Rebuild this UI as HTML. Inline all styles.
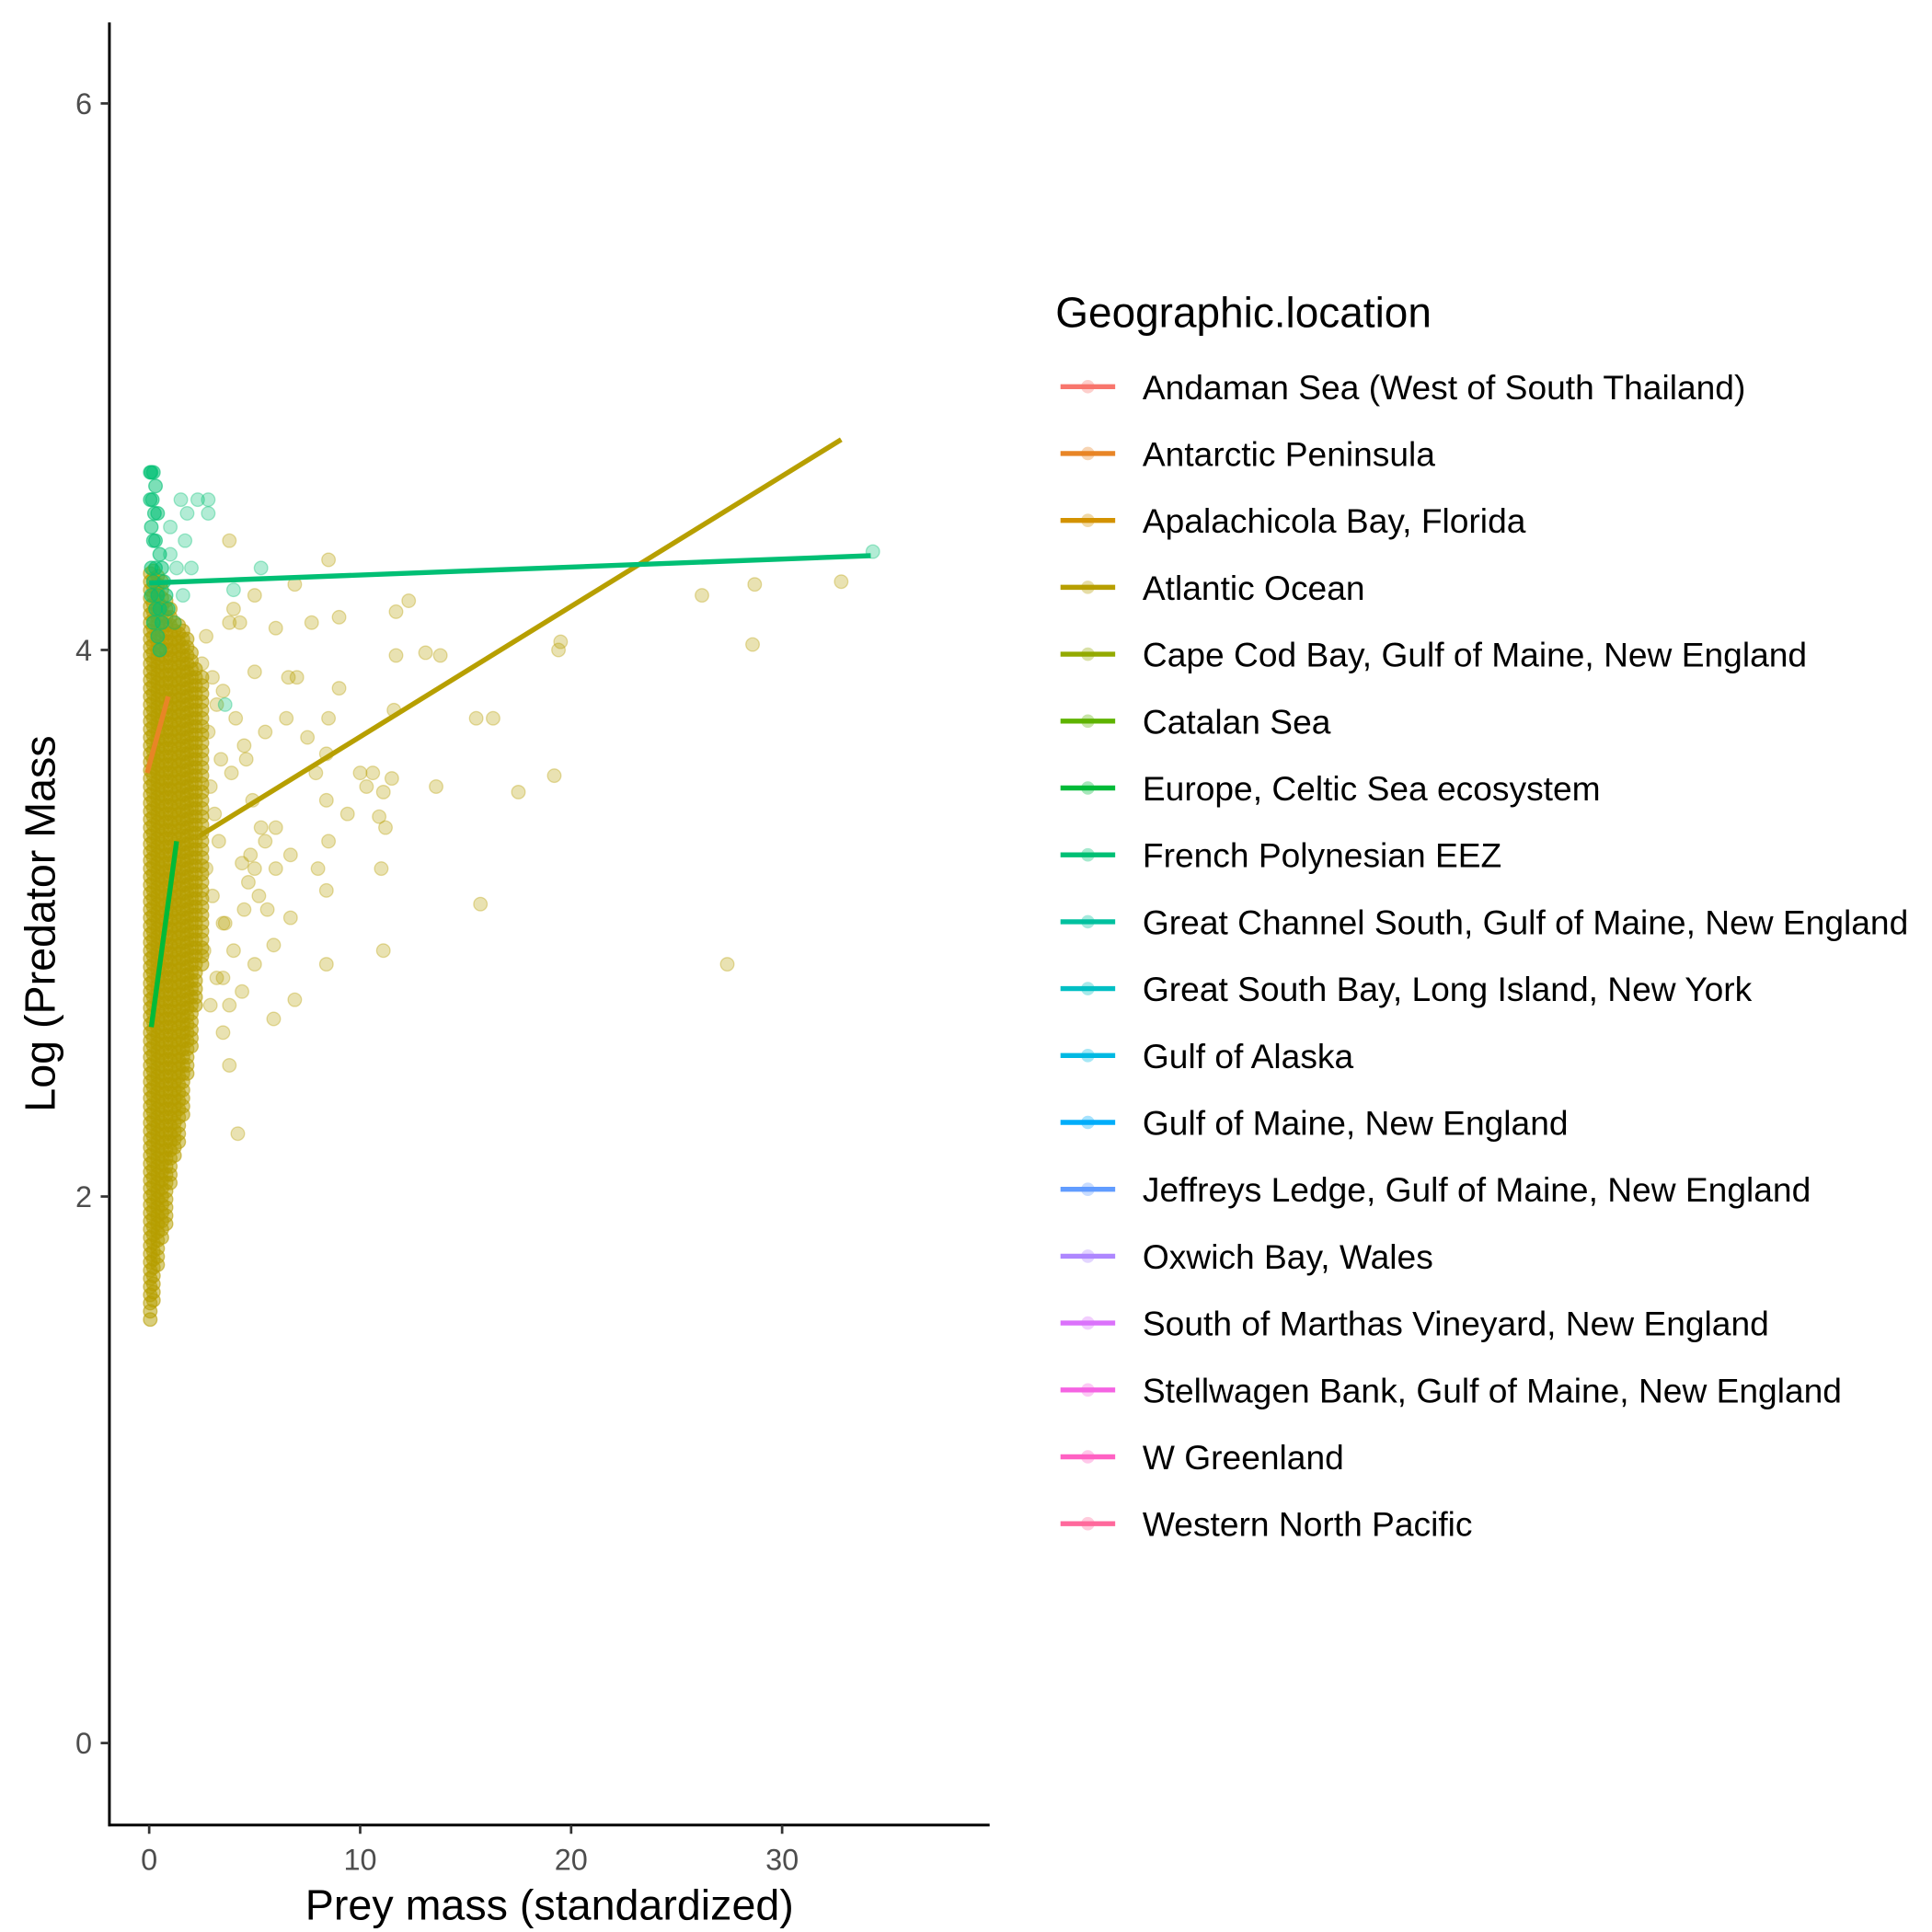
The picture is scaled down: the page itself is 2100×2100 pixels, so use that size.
<!DOCTYPE html>
<html><head><meta charset="utf-8"><style>
html,body{margin:0;padding:0;background:#fff;}
svg{display:block;font-family:"Liberation Sans",Arial,sans-serif;}
</style></head><body>
<svg id="chart" width="2100" height="2100" viewBox="0 0 1554 1554" xmlns="http://www.w3.org/2000/svg">
<rect width="1554" height="1554" fill="#fff"/>
<g id="points"></g>
<g id="lines"></g>
<g id="axes"></g>
<g id="legend"></g>
</svg>
<script>
const xTicks=[0,10,20,30];
const yTicks=[0,2,4,6];
// Atlantic Ocean points: x values, y values
const atlX=[3.8,8.5,6.9,5.0,4.0,4.3,3.8,6.0,7.7,9.0,11.7,12.3,26.2,28.7,32.8,28.6,19.5,19.4,11.7,13.1,13.8,7.0,6.6,9.0,5.0,6.5,8.5,11.6,15.5,16.3,7.5,5.5,4.5,8.4,10.0,11.5,10.6,7.9,13.6,17.5,19.2,11.1,10.3,8.4,9.4,10.9,11.2,8.5,6.0,5.5,6.7,8.0,11.0,5.0,4.4,6.0,8.4,15.7,6.7,4.5,3.5,5.9,4.0,8.4,11.1,27.4,3.5,5.0,4.4,3.8,6.9,5.9,3.5,3.8,4.2,3.0,3.2,2.8,3.4,2.9,3.1,3.3,2.7,3.0,3.6,2.6,3.2,2.9,3.5,4.6,4.9,5.3,4.7,5.6,4.1,4.8,3.9,5.2,2.5,2.7];
const atlY=[4.4,4.33,4.24,4.2,4.15,4.1,4.1,4.08,4.1,4.12,4.14,4.18,4.2,4.24,4.25,4.02,4.03,4.0,3.98,3.99,3.98,3.9,3.9,3.86,3.92,3.75,3.75,3.78,3.75,3.75,3.68,3.7,3.65,3.62,3.55,3.53,3.55,3.55,3.5,3.48,3.54,3.48,3.5,3.45,3.4,3.39,3.35,3.3,3.35,3.3,3.25,3.2,3.2,3.2,3.22,3.2,3.12,3.07,3.02,3.05,3.0,2.92,2.9,2.85,2.9,2.85,2.8,2.85,2.75,2.7,2.72,2.65,2.6,2.48,2.23,3.9,3.8,3.7,3.6,3.5,3.4,3.3,3.2,3.1,3.0,2.9,2.8,2.7,3.85,3.6,3.45,3.35,3.15,3.05,3.75,3.25,3.55,3.1,3.95,4.05];
// dense column (x near zero)
const colX=[0.05,0.2,0.4,0.6,0.8,1.0,1.2,1.4,1.6,1.8,2.0,2.2,2.5];
const colYLow=[1.55,1.62,1.75,1.85,1.9,2.05,2.15,2.2,2.3,2.45,2.55,2.7,2.85];
const colYHigh=[4.3,4.3,4.28,4.25,4.2,4.15,4.1,4.1,4.08,4.05,4.0,3.95,3.9];
// French Polynesian EEZ points
const fpX=[0.05,0.1,0.2,0.3,0.05,0.15,0.25,0.4,0.1,0.2,0.3,0.5,0.1,0.3,0.6,0.2,0.4,0.1,0.3,0.5,0.2,0.6,0.8,1.0,1.0,1.5,2.3,2.8,1.8,2.8,1.7,1.3,5.3,4.0,34.3,3.6,1.6,2.0,0.7,0.9,1.2,0.4,0.5];
const fpY=[4.65,4.65,4.65,4.6,4.55,4.55,4.5,4.5,4.45,4.4,4.4,4.35,4.3,4.3,4.3,4.25,4.2,4.2,4.15,4.15,4.1,4.1,4.2,4.35,4.45,4.55,4.55,4.55,4.5,4.5,4.4,4.3,4.3,4.22,4.36,3.8,4.2,4.3,4.25,4.15,4.1,4.05,4.0];
// fit lines
const lineNames=["atlantic-fit-line","french-polynesia-fit-line","celtic-sea-fit-line","antarctic-fit-line"];
const lineColors=["#B79F00","#00BF74","#00BA38","#E88526"];
const lineX0=[2.4,0,0.1,-0.1];
const lineX1=[32.8,34.2,1.3,0.9];
const lineY0=[3.32,4.245,2.62,3.55];
const lineY1=[4.77,4.345,3.3,3.83];
const legendLabels=["Andaman Sea (West of South Thailand)","Antarctic Peninsula","Apalachicola Bay, Florida","Atlantic Ocean","Cape Cod Bay, Gulf of Maine, New England","Catalan Sea","Europe, Celtic Sea ecosystem","French Polynesian EEZ","Great Channel South, Gulf of Maine, New England","Great South Bay, Long Island, New York","Gulf of Alaska","Gulf of Maine, New England","Jeffreys Ledge, Gulf of Maine, New England","Oxwich Bay, Wales","South of Marthas Vineyard, New England","Stellwagen Bank, Gulf of Maine, New England","W Greenland","Western North Pacific"];
const legendColors=["#F8766D","#E88526","#D39200","#B79F00","#93AA00","#5EB300","#00BA38","#00BF74","#00C19F","#00BFC4","#00B9E3","#00ADFA","#619CFF","#AE87FF","#DB72FB","#F564E3","#FF61C3","#FF699C"];

const NS="http://www.w3.org/2000/svg";
const X=v=>120+v*16.97;
const Y=v=>1402-v*219.8;
function mk(tag,attrs,parent){const e=document.createElementNS(NS,tag);for(const k in attrs)e.setAttribute(k,attrs[k]);parent.appendChild(e);return e;}
const gp=document.getElementById('points'),gl=document.getElementById('lines'),ga=document.getElementById('axes'),gg=document.getElementById('legend');

function dot(x,y,c){
  const e=mk('circle',{cx:X(x),cy:Y(y),r:5.4,fill:c,'fill-opacity':0.3,stroke:c,'stroke-opacity':0.35,'stroke-width':1},gp);
  
  
}
for(let i=0;i<colX.length;i++){
  for(let y=colYLow[i];y<=colYHigh[i];y+=0.03){
    dot(colX[i],y,'#B79F00');
    dot(colX[i],y,'#B79F00');
  }
}
for(let i=0;i<atlX.length;i++)dot(atlX[i],atlY[i],'#B79F00');
for(let i=0;i<fpX.length;i++){dot(fpX[i],fpY[i],'#00BF74');if(fpX[i]<1)dot(fpX[i],fpY[i],'#00BF74');}

for(let i=0;i<lineNames.length;i++){
  const l=mk('line',{x1:X(lineX0[i]),y1:Y(lineY0[i]),x2:X(lineX1[i]),y2:Y(lineY1[i]),stroke:lineColors[i],'stroke-width':4},gl);
  
  
}

let a=mk('line',{x1:88,y1:18,x2:88,y2:1469,stroke:'#000','stroke-width':2.2},ga);


a=mk('line',{x1:87,y1:1468,x2:796,y2:1468,stroke:'#000','stroke-width':2.2},ga);


yTicks.forEach(v=>{
  const t=mk('line',{x1:81,x2:88,y1:Y(v),y2:Y(v),stroke:'#333','stroke-width':2},ga);
  
  
  const s=mk('text',{x:74,y:Y(v)+8.5,'text-anchor':'end','font-size':24,fill:'#4d4d4d'},ga);
  s.textContent=v;
  
  
});
xTicks.forEach(v=>{
  const t=mk('line',{x1:X(v),x2:X(v),y1:1468,y2:1475,stroke:'#333','stroke-width':2},ga);
  
  
  const s=mk('text',{x:X(v),y:1504,'text-anchor':'middle','font-size':24,fill:'#4d4d4d'},ga);
  s.textContent=v;
  
  
});
let t=mk('text',{x:442,y:1544,'text-anchor':'middle','font-size':34.5,fill:'#000'},ga);
t.textContent='Prey mass (standardized)';


t=mk('text',{x:0,y:0,'text-anchor':'middle','font-size':34.5,fill:'#000',transform:'translate(44,743) rotate(-90)'},ga);
t.textContent='Log (Predator Mass';



t=mk('text',{x:849,y:263,'font-size':34,fill:'#000'},gg);
t.textContent='Geographic.location';


legendLabels.forEach((lab,i)=>{
  const y=311+i*53.8;
  const g=mk('g',{},gg);
  
  
  mk('line',{x1:853,x2:897,y1:y,y2:y,stroke:legendColors[i],'stroke-width':4},g);
  mk('circle',{cx:875,cy:y,r:5.4,fill:legendColors[i],'fill-opacity':0.35},g);
  const s=mk('text',{x:919,y:y+10,'font-size':27.5,fill:'#000'},g);
  s.textContent=lab;
});
</script>
</body></html>
